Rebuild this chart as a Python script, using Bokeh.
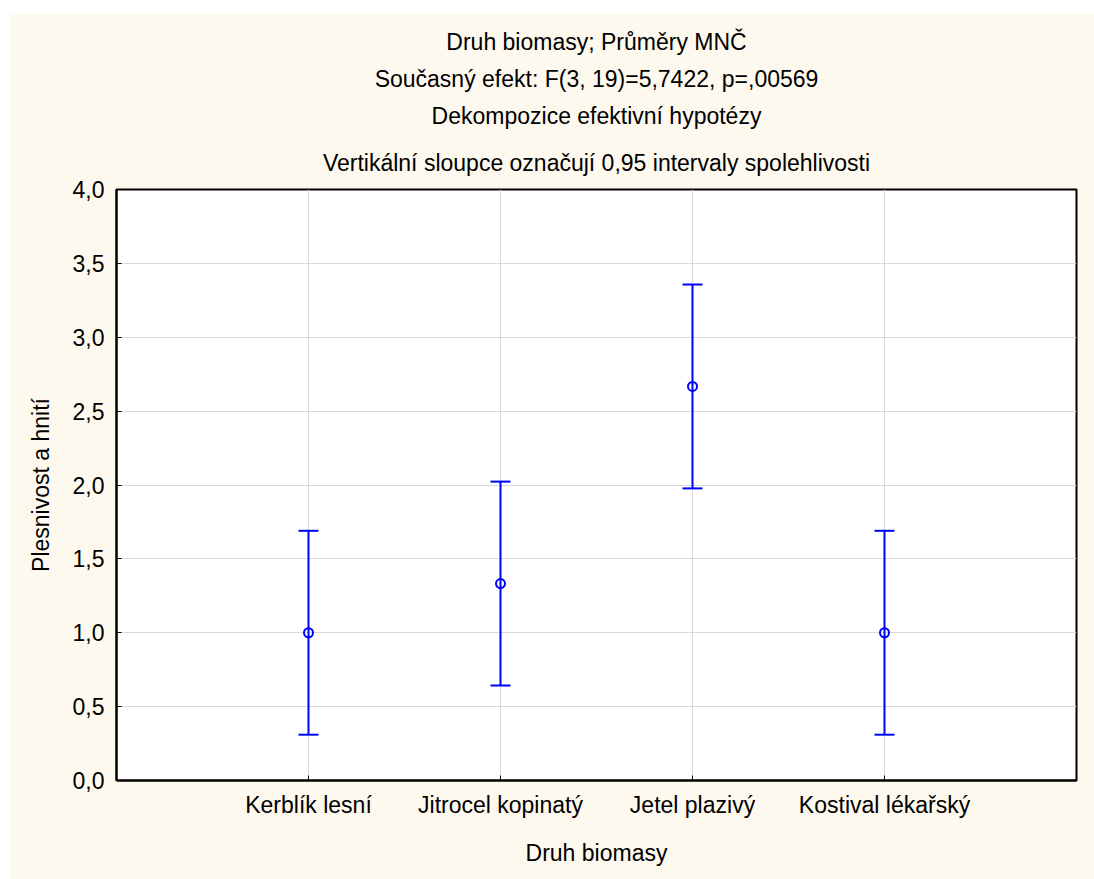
from bokeh.plotting import figure
from bokeh.models import (ColumnDataSource, Whisker, TeeHead, Title, FixedTicker,
                          CustomJSTickFormatter, FactorRange, Range1d)
from bokeh.embed import file_html
from bokeh.resources import INLINE

# Least-squares means of mould/rot score by biomass type, with 0.95 confidence limits
categories = ["Kerblík lesní", "Jitrocel kopinatý", "Jetel plazivý", "Kostival lékařský"]
means = [1.0, 1.333, 2.667, 1.0]
lower = [0.31, 0.643, 1.977, 0.31]
upper = [1.69, 2.023, 3.357, 1.69]
y_ticks = [0.0, 0.5, 1.0, 1.5, 2.0, 2.5, 3.0, 3.5, 4.0]

title_lines = [
    "Druh biomasy; Průměry MNČ",
    "Současný efekt: F(3, 19)=5,7422, p=,00569",
    "Dekompozice efektivní hypotézy",
    "Vertikální sloupce označují 0,95 intervaly spolehlivosti",
]

FONT = "Liberation Sans"
FS = "23px"
BLUE = "#0000FF"
CREAM = "#FEF9EF"
GRID = "#DADADA"

src = ColumnDataSource(dict(cat=categories, mean=means, lower=lower, upper=upper))

p = figure(
    x_range=FactorRange(*categories, range_padding=0.5, range_padding_units="absolute"),
    y_range=Range1d(0, 4),
    width=1085, height=866,
    min_border_left=107, min_border_right=18, min_border_top=176, min_border_bottom=99,
    title=None, toolbar_location=None, output_backend="svg",
    background_fill_color="white", border_fill_color=CREAM,
)
p.margin = (13, 0, 0, 9)

p.outline_line_color = "black"
p.outline_line_width = 2

tick_fmt = CustomJSTickFormatter(code="return tick.toFixed(1).replace('.', ',');")

# left axis
ya = p.yaxis[0]
ya.ticker = FixedTicker(ticks=y_ticks)
ya.formatter = tick_fmt
ya.axis_label = "Plesnivost a hnití"

# bottom axis
xa = p.xaxis[0]
xa.axis_label = "Druh biomasy"

for ax in (xa, ya):
    ax.axis_label_text_font = FONT
    ax.axis_label_text_font_size = FS
    ax.axis_label_text_font_style = "normal"
    ax.axis_label_text_color = "black"
    ax.major_label_text_font = FONT
    ax.major_label_text_font_size = FS
    ax.major_label_text_color = "black"
    ax.axis_line_color = "black"
    ax.axis_line_width = 2
    ax.major_tick_in = 5
    ax.major_tick_out = 0
    ax.major_tick_line_color = "black"
    ax.minor_tick_line_color = None
ya.major_label_standoff = 12
ya.axis_label_standoff = 16
xa.major_label_standoff = 11
xa.axis_label_standoff = 19

p.ygrid.ticker = FixedTicker(ticks=y_ticks)
for g in (p.xgrid[0], p.ygrid[0]):
    g.grid_line_color = GRID
    g.grid_line_width = 1

# confidence interval whiskers
wh = Whisker(
    source=src, base="cat", lower="lower", upper="upper", dimension="height",
    line_color=BLUE, line_width=2,
    upper_head=TeeHead(size=20, line_color=BLUE, line_width=2),
    lower_head=TeeHead(size=20, line_color=BLUE, line_width=2),
)
p.add_layout(wh)

# mean markers
p.scatter(x="cat", y="mean", source=src, marker="circle", size=9,
          fill_color=None, line_color=BLUE, line_width=2)

# stacked titles, innermost line first; the innermost one gets extra room above the frame
for i, line in enumerate(reversed(title_lines)):
    t = Title(text=line, align="center", text_font=FONT, text_font_size=FS,
              text_font_style="normal", text_color="black",
              standoff=28 if i == 0 else 9, background_fill_color=None)
    p.add_layout(t, "above")

open("out.html", "w").write(file_html(p, INLINE))
